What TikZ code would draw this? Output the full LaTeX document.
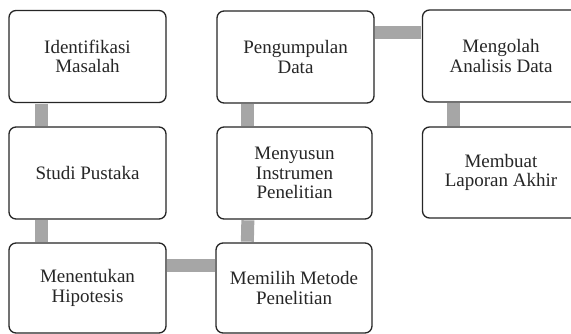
\documentclass[tikz,border=0pt]{standalone}
\usepackage{fontspec}
\setmainfont{Liberation Serif}
\usetikzlibrary{calc}
\begin{document}
\begin{tikzpicture}[x=1pt,y=-1pt,
  stepbox/.style={draw=black!85, line width=1.3pt, rounded corners=7pt, fill=white,
    minimum width=157pt, minimum height=92pt, align=center, inner sep=2pt,
    font=\fontsize{19}{19.5}\selectfont, text=black!85},
  bar/.style={draw=black!35, line width=13pt, line cap=butt}]
\useasboundingbox (0,0) rectangle (571,334);
\begin{scope}
\clip (0,0) rectangle (571,334);
\node[stepbox] (b1) at (87.5,56.5) {Identifikasi\\Masalah};
\node[stepbox] (b2) at (87.5,173) {Studi Pustaka};
\node[stepbox, minimum height=90pt] (b3) at (87.5,288) {Menentukan\\Hipotesis};
\node[stepbox, minimum width=156pt, minimum height=90pt] (b4) at (294,288) {Memilih Metode\\Penelitian};
\node[stepbox, minimum width=155pt] (b5) at (294.5,173) {Menyusun\\Instrumen\\Penelitian};
\node[stepbox] (b6) at (295.5,57) {Pengumpulan\\Data};
\node[stepbox] (b7) at (501,56) {Mengolah\\Analisis Data};
\node[stepbox, minimum height=91pt] (b8) at (501,172.5) {Membuat\\Laporan Akhir};
\draw[bar] ($(b1.south west)+(33,0.7)$) -- ($(b2.north west)+(33,-0.7)$);
\draw[bar] ($(b2.south west)+(33,0.7)$) -- ($(b3.north west)+(33,-0.7)$);
\draw[bar] ($(b3.north east)+(0.7,23)$) -- ($(b4.north west)+(-0.7,23)$);
\draw[bar] ($(b4.north west)+(32,-0.7)$) -- ($(b5.south west)+(31.5,0.7)$);
\draw[bar] ($(b5.north west)+(31.5,-0.7)$) -- ($(b6.south west)+(31.5,0.7)$);
\draw[bar] ($(b6.north east)+(0.7,22)$) -- ($(b7.north west)+(-0.7,23)$);
\draw[bar] ($(b7.south west)+(32,0.7)$) -- ($(b8.north west)+(32,-0.7)$);
\end{scope}
\end{tikzpicture}
\end{document}
